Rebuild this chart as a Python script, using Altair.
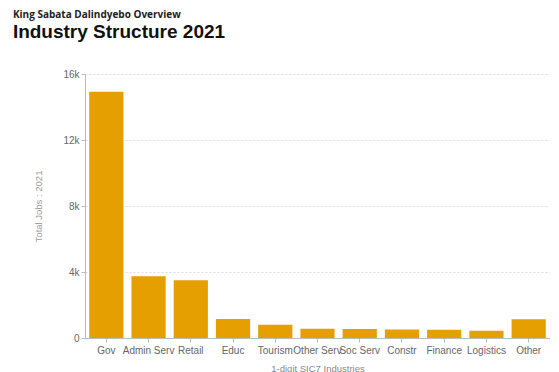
import altair as alt
import pandas as pd

industries = ["Gov", "Admin Serv", "Retail", "Educ", "Tourism", "Other Serv",
              "Soc Serv", "Constr", "Finance", "Logistics", "Other"]
jobs = [14930, 3740, 3500, 1150, 810, 560, 540, 510, 505, 440, 1140]
y_ticks = [0, 4000, 8000, 12000, 16000]

df = pd.DataFrame({"industry": industries, "jobs": jobs})

chart = alt.Chart(df).mark_bar(color="#E69F00").encode(
    x=alt.X("industry:N", sort=industries,
            scale=alt.Scale(paddingInner=0.19, paddingOuter=0.1),
            axis=alt.Axis(title="1-digit SIC7 Industries", labelAngle=0,
                          labelOverlap=False, labelLimit=0,
                          labelColor="#666666", labelFontSize=10,
                          labelFont="Liberation Sans",
                          titleColor="#888888", titleFontSize=9.5,
                          titleFontWeight="normal", titleFont="Liberation Sans",
                          titlePadding=8,
                          domainColor="#bbbbbb", tickColor="#bbbbbb",
                          tickSize=4, labelPadding=3, grid=False)),
    y=alt.Y("jobs:Q", scale=alt.Scale(domain=[0, 16000]),
            axis=alt.Axis(title="Total Jobs : 2021", values=y_ticks,
                          labelExpr="datum.value == 0 ? '0' : (datum.value / 1000) + 'k'",
                          labelColor="#666666", labelFontSize=10,
                          labelFont="Liberation Sans",
                          titleColor="#999999", titleFontSize=9.5,
                          titleFontWeight="normal", titleFont="Liberation Sans",
                          titlePadding=19,
                          domainColor="#bbbbbb", tickColor="#bbbbbb", tickSize=4,
                          gridColor="#dddddd", gridDash=[2, 2])),
).properties(
    width=465,
    height=264,
    padding={"left": 4, "top": 2, "right": 0, "bottom": 0},
    title=alt.TitleParams(
        text="King Sabata Dalindyebo Overview",
        subtitle="Industry Structure 2021",
        anchor="start",
        frame="bounds",
        dx=-21,
        font="Open Sans",
        fontSize=10,
        fontWeight="bold",
        color="#222222",
        subtitleFont="Liberation Sans",
        subtitleFontSize=19,
        subtitleFontWeight="bold",
        subtitleColor="#111111",
        subtitlePadding=3,
        offset=27,
    ),
).configure_view(stroke=None)

chart.save("out.html", embed_options={"renderer": "svg", "actions": False})
